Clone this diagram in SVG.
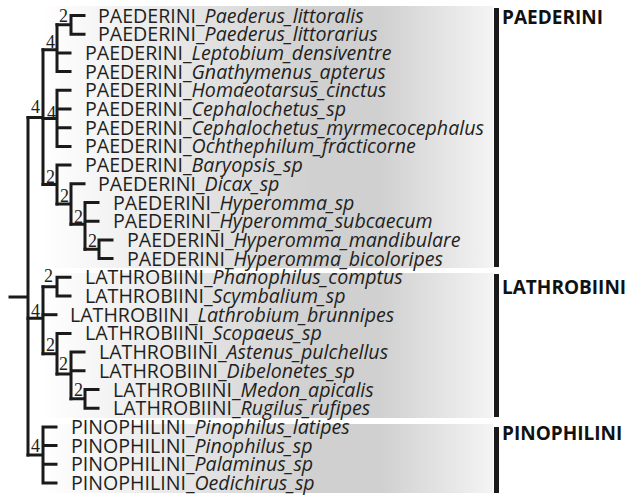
<svg xmlns="http://www.w3.org/2000/svg" width="627" height="496" viewBox="0 0 627 496">
<defs>
<linearGradient id="band" gradientUnits="userSpaceOnUse" x1="42" y1="0" x2="493" y2="0">
<stop offset="0" stop-color="#ffffff"/>
<stop offset="0.6" stop-color="#d0d0d0"/>
<stop offset="0.75" stop-color="#d0d0d0"/>
<stop offset="1" stop-color="#f4f4f4"/>
</linearGradient>
<style>
.br{fill:none;stroke:#1a1a1a;stroke-width:3;stroke-linecap:square}
.lf{font-family:"Open Sans","Noto Sans",sans-serif;font-size:19.6px;fill:#231f20}
.lf tspan{font-style:italic}
.sp{font-family:"Liberation Serif",serif;font-size:18px;fill:#231f20;text-anchor:end}
.grp{font-family:"Open Sans","Noto Sans",sans-serif;font-size:19px;font-weight:bold;fill:#111}
.bar{fill:#1a1a1a}
</style>
</defs>
<rect width="627" height="496" fill="#fff"/>
<g id="bands">
<rect x="42" y="6" width="451" height="262" fill="url(#band)"/>
<rect x="42" y="273" width="451" height="145" fill="url(#band)"/>
<rect x="42" y="424" width="451" height="69" fill="url(#band)"/>
</g>
<g id="connectors">
<path class="br" d="M10 296.9 H28 M28 117.6 V455"/>
<path class="br" d="M28 117.6 H43 M43 49.8 V184.6"/>
<path class="br" d="M43 49.8 H57 M57 24.85 V71.6 M57 52.9 H70 M57 71.6 H70"/>
<path class="br" d="M57 24.85 H71 M71 15.5 V34.2 M71 15.5 H84 M71 34.2 H84"/>
<path class="br" d="M43 118.4 H57 M57 90.3 V146.4 M57 90.3 H70 M57 109 H70 M57 127.7 H70 M57 146.4 H70"/>
<path class="br" d="M43 184.6 H57 M57 165.1 V204 M57 165.1 H70"/>
<path class="br" d="M57 204 H71 M71 183.8 V224.3 M71 183.8 H84"/>
<path class="br" d="M71 224.3 H85 M85 202.5 V249.25 M85 202.5 H98 M85 221.2 H98"/>
<path class="br" d="M85 249.25 H99 M99 239.9 V258.6 M99 239.9 H112 M99 258.6 H112"/>
<path class="br" d="M28 318.3 H43 M43 286.65 V353.65"/>
<path class="br" d="M43 286.65 H57 M57 277.3 V296 M57 277.3 H70 M57 296 H70"/>
<path class="br" d="M43 314.7 H56"/>
<path class="br" d="M43 353.65 H57 M57 333.4 V373.9 M57 333.4 H70"/>
<path class="br" d="M57 373.9 H71 M71 352.1 V398.85 M71 352.1 H84 M71 370.8 H84"/>
<path class="br" d="M71 398.85 H85 M85 389.5 V408.2 M85 389.5 H98 M85 408.2 H98"/>
<path class="br" d="M28 455 H43 M43 426.9 V483 M43 426.9 H56 M43 445.6 H56 M43 464.3 H56 M43 483 H56"/>
</g>
<g id="support">
<text class="sp" x="68" y="22">2</text>
<text class="sp" x="55" y="48">4</text>
<text class="sp" x="40" y="113">4</text>
<text class="sp" x="56" y="119">4</text>
<text class="sp" x="55" y="183">2</text>
<text class="sp" x="69" y="202">2</text>
<text class="sp" x="83" y="223">2</text>
<text class="sp" x="97" y="247">2</text>
<text class="sp" x="53" y="282">2</text>
<text class="sp" x="40" y="317">4</text>
<text class="sp" x="55" y="351">2</text>
<text class="sp" x="68" y="370">2</text>
<text class="sp" x="83" y="396">2</text>
<text class="sp" x="40" y="452">4</text>
</g>
<g id="leaf-1"><text class="lf" x="98" y="22.5">PAEDERINI_<tspan>Paederus_littoralis</tspan></text></g>
<g id="leaf-2"><text class="lf" x="98" y="41.2">PAEDERINI_<tspan>Paederus_littorarius</tspan></text></g>
<g id="leaf-3"><text class="lf" x="85" y="59.9">PAEDERINI_<tspan>Leptobium_densiventre</tspan></text></g>
<g id="leaf-4"><text class="lf" x="85" y="78.6">PAEDERINI_<tspan>Gnathymenus_apterus</tspan></text></g>
<g id="leaf-5"><text class="lf" x="85" y="97.3">PAEDERINI_<tspan>Homaeotarsus_cinctus</tspan></text></g>
<g id="leaf-6"><text class="lf" x="85" y="116">PAEDERINI_<tspan>Cephalochetus_sp</tspan></text></g>
<g id="leaf-7"><text class="lf" x="85" y="134.7">PAEDERINI_<tspan>Cephalochetus_myrmecocephalus</tspan></text></g>
<g id="leaf-8"><text class="lf" x="85" y="153.4">PAEDERINI_<tspan>Ochthephilum_fracticorne</tspan></text></g>
<g id="leaf-9"><text class="lf" x="85" y="172.1">PAEDERINI_<tspan>Baryopsis_sp</tspan></text></g>
<g id="leaf-10"><text class="lf" x="98" y="190.8">PAEDERINI_<tspan>Dicax_sp</tspan></text></g>
<g id="leaf-11"><text class="lf" x="113" y="209.5">PAEDERINI_<tspan>Hyperomma_sp</tspan></text></g>
<g id="leaf-12"><text class="lf" x="113" y="228.2">PAEDERINI_<tspan>Hyperomma_subcaecum</tspan></text></g>
<g id="leaf-13"><text class="lf" x="127" y="246.9">PAEDERINI_<tspan>Hyperomma_mandibulare</tspan></text></g>
<g id="leaf-14"><text class="lf" x="127" y="265.6">PAEDERINI_<tspan>Hyperomma_bicoloripes</tspan></text></g>
<g id="leaf-15"><text class="lf" x="85" y="284.3">LATHROBIINI_<tspan>Phanophilus_comptus</tspan></text></g>
<g id="leaf-16"><text class="lf" x="85" y="303">LATHROBIINI_<tspan>Scymbalium_sp</tspan></text></g>
<g id="leaf-17"><text class="lf" x="70" y="321.7">LATHROBIINI_<tspan>Lathrobium_brunnipes</tspan></text></g>
<g id="leaf-18"><text class="lf" x="85" y="340.4">LATHROBIINI_<tspan>Scopaeus_sp</tspan></text></g>
<g id="leaf-19"><text class="lf" x="99" y="359.1">LATHROBIINI_<tspan>Astenus_pulchellus</tspan></text></g>
<g id="leaf-20"><text class="lf" x="99" y="377.8">LATHROBIINI_<tspan>Dibelonetes_sp</tspan></text></g>
<g id="leaf-21"><text class="lf" x="113" y="396.5">LATHROBIINI_<tspan>Medon_apicalis</tspan></text></g>
<g id="leaf-22"><text class="lf" x="113" y="415.2">LATHROBIINI_<tspan>Rugilus_rufipes</tspan></text></g>
<g id="leaf-23"><text class="lf" x="71" y="433.9">PINOPHILINI_<tspan>Pinophilus_latipes</tspan></text></g>
<g id="leaf-24"><text class="lf" x="71" y="452.6">PINOPHILINI_<tspan>Pinophilus_sp</tspan></text></g>
<g id="leaf-25"><text class="lf" x="71" y="471.3">PINOPHILINI_<tspan>Palaminus_sp</tspan></text></g>
<g id="leaf-26"><text class="lf" x="71" y="490">PINOPHILINI_<tspan>Oedichirus_sp</tspan></text></g>
<g id="clade-paederini"><rect class="bar" x="494" y="8" width="5" height="259"/><text class="grp" x="502" y="24">PAEDERINI</text></g>
<g id="clade-lathrobiini"><rect class="bar" x="494" y="274" width="5" height="143"/><text class="grp" x="502" y="294">LATHROBIINI</text></g>
<g id="clade-pinophilini"><rect class="bar" x="494" y="427" width="5" height="66"/><text class="grp" x="502" y="440">PINOPHILINI</text></g>
</svg>
